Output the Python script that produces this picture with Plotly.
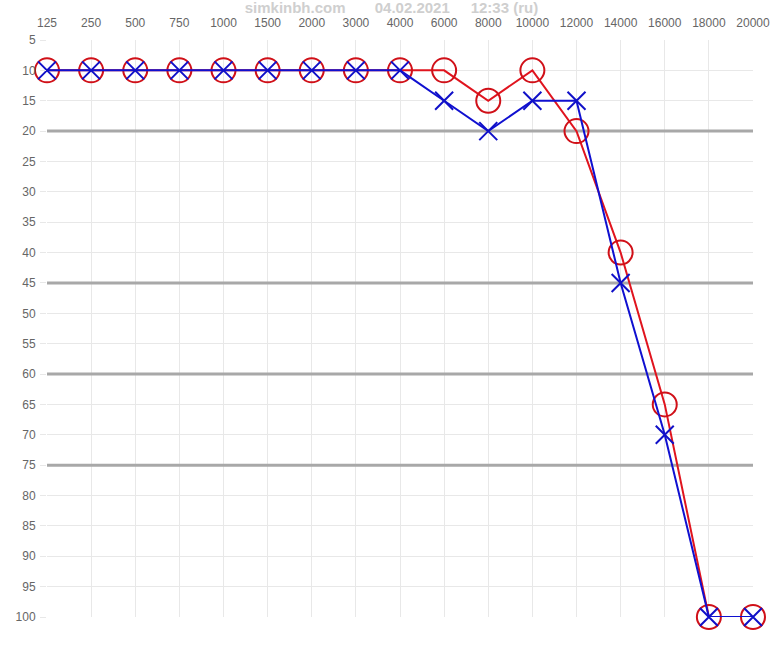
import plotly.graph_objects as go

freqs = ["125", "250", "500", "750", "1000", "1500", "2000", "3000", "4000",
         "6000", "8000", "10000", "12000", "14000", "16000", "18000", "20000"]
red_vals = [10, 10, 10, 10, 10, 10, 10, 10, 10, 10, 15, 10, 20, 40, 65, 100, 100]
blue_vals = [10, 10, 10, 10, 10, 10, 10, 10, 10, 15, 20, 15, 15, 45, 70, 100, 100]
y_ticks = list(range(5, 101, 5))
thresholds = [20, 45, 60, 75]
title_text = ("simkinbh.com" + "\u00a0" * 7 + "04.02.2021" + "\u00a0" * 5 + "12:33 (ru)")

xi = list(range(len(freqs)))

fig = go.Figure()
fig.add_trace(go.Scatter(
    x=xi, y=red_vals, mode="lines+markers", cliponaxis=False,
    line=dict(color="#e0141e", width=2),
    marker=dict(symbol="circle-open", size=24, color="#d01018", line=dict(width=2, color="#d01018")),
    showlegend=False))
fig.add_trace(go.Scatter(
    x=xi, y=blue_vals, mode="lines+markers", cliponaxis=False,
    line=dict(color="#1010d0", width=2),
    marker=dict(symbol="x-thin-open", size=18, color="#1010c8", line=dict(width=2, color="#1010c8")),
    showlegend=False))

for t in thresholds:
    fig.add_shape(type="line", xref="x", yref="y", x0=0, x1=len(freqs) - 1, y0=t, y1=t,
                  line=dict(color="#a8a8a8", width=3), layer="between")

fig.update_layout(
    width=783, height=648,
    margin=dict(l=47, r=30, t=40, b=31, autoexpand=False),
    paper_bgcolor="white", plot_bgcolor="white",
    font=dict(family="Liberation Sans, Arial, sans-serif", size=12, color="#666"),
    title=dict(text="<b>" + title_text + "</b>", x=382 / 783, xanchor="center", xref="paper",
               y=1 - 8 / 648, yanchor="middle",
               font=dict(size=15, color="#cfcfcf", family="Liberation Sans, Arial, sans-serif")),
    xaxis=dict(side="top", tickmode="array", tickvals=xi, ticktext=freqs,
               range=[0, len(freqs) - 1], showgrid=True, gridcolor="#e8e8e8", gridwidth=1,
               zeroline=False, showline=False, ticks="", ticklabelstandoff=10,
               automargin=False, tickfont=dict(size=12, color="#666")),
    yaxis=dict(autorange=False, range=[100, 5], tickmode="array", tickvals=y_ticks,
               showgrid=True, gridcolor="#e8e8e8", gridwidth=1, zeroline=False, showline=False,
               ticks="outside", ticklen=6, tickcolor="#e8e8e8", automargin=False,
               ticklabelstandoff=2, tickfont=dict(size=12, color="#666")),
)

fig.write_html("out.html", config={"displayModeBar": False})
with open("out.html", "r", encoding="utf-8") as f:
    html = f.read()
html = html.replace("<head>", "<head><style>html,body{margin:0;padding:0;overflow:hidden;}</style>", 1)
with open("out.html", "w", encoding="utf-8") as f:
    f.write(html)
